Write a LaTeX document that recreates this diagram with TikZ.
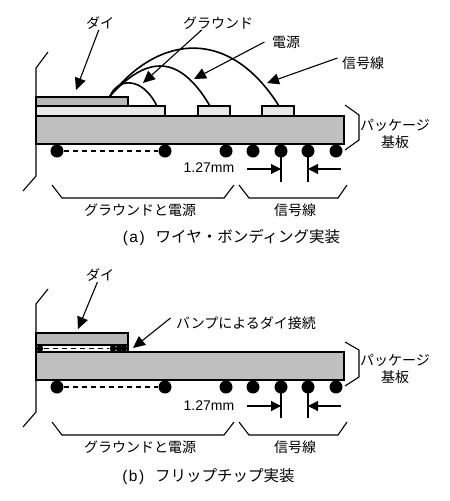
\documentclass[tikz,border=0pt]{standalone}
\usepackage{fontspec}
\setmainfont{Liberation Sans}
\newfontfamily\cjk{Noto Sans CJK JP}
\usetikzlibrary{arrows.meta}

\begin{document}
\begin{tikzpicture}[x=1pt, y=-1pt, line width=1.1pt,
        lbl/.style = {inner sep=0pt, font=\cjk\fontsize{14}{17}\selectfont, align=center},
        num/.style = {inner sep=0pt, font=\fontsize{14}{17}\selectfont},
        caption/.style = {inner sep=0pt, font=\fontsize{15.5}{18}\selectfont},
        ball/.style = {circle, fill=black, inner sep=0pt, minimum size=13pt},
        bump/.style = {circle, fill=black, inner sep=0pt, minimum size=6.5pt},
        point/.style = {-{Triangle[length=12pt,width=11pt]}},
        tick/.style = {-{Triangle[length=10pt,width=10pt]}},
        wire/.style = {line width=1.6pt},
        gap/.style = {dash pattern=on 5pt off 4pt},
        die/.style = {draw, fill=black!28},
        sub/.style = {draw, fill=black!25},
        pad/.style = {draw, fill=black!9}]
    \useasboundingbox (0,0) rectangle (450,501);

    % (a) wire bonding
    \draw[die] (36,97) rectangle (128,106);
    \draw[pad] (36,106) rectangle (165,116);
    \draw[pad] (198,106) rectangle (230,116);
    \draw[pad] (262,106) rectangle (294,116);
    \draw[sub] (36,116) rectangle (344,144);
    \draw (48,52) -- (36,68) -- (36,176) -- (23,191);
    \draw (345,105) -- (359,115) -- (359,140) -- (345,150);

    \coordinate (wA) at (110,96);
    \coordinate (gndA) at (157,106);
    \coordinate (pwrA) at (210,106);
    \coordinate (sigA) at (279,106);
    \draw[wire] (wA) .. controls (118,78) and (142,76) .. (gndA);
    \draw[wire] (wA) .. controls (148,54) and (180,55) .. (pwrA);
    \draw[wire] (wA) .. controls (160,33) and (230,28) .. (sigA);

    \foreach \x in {57,165,226,253,281,308,336}
        \node[ball] (a\x) at (\x,151) {};
    \draw[gap] (a57) -- (a165);

    \node[lbl] (dieA) at (100,23) {ダイ};
    \node[lbl] (groundA) at (218,23) {グラウンド};
    \node[lbl] (powerA) at (286,42) {電源};
    \node[lbl] (signalA) at (363,63) {信号線};
    \node[lbl] (pkgA) at (395,134) {パッケージ\\基板};
    \coordinate (dieAt) at (76,90);
    \coordinate (groundAt) at (143,83);
    \coordinate (powerAt) at (194,79);
    \coordinate (signalAt) at (267,83);
    \path[point] (dieA.-100) edge (dieAt);
    \path[point] (groundA.-157) edge (groundAt);
    \path[point] ([xshift=-7pt]powerA.west) edge (powerAt);
    \path[point] ([xshift=-4pt,yshift=5pt]signalA.west) edge (signalAt);

    \node[num] (pitchA) at (209,168) {1.27mm};
    \coordinate (lfA) at (281,182);
    \coordinate (rgA) at (308,182);
    \coordinate (inA) at (281,169);
    \coordinate (onA) at (308,169);
    \draw (a281.center) -- (lfA);
    \draw (a308.center) -- (rgA);
    \path[tick] (247,169) edge (inA);
    \path[tick] (341,169) edge (onA);

    \draw (52,185) -- (62,198) -- (224,198) -- (234,185);
    \draw (239,185) -- (249,198) -- (338,198) -- (347,185);
    \node[lbl] (gpA) at (140,210) {グラウンドと電源};
    \node[lbl] (slA) at (295,210) {信号線};
    \node[caption] (capA) at (231.5,237) {(\kern1.5pt a\kern1.5pt)\hspace{11pt}{\cjk ワイヤ・ボンディング実装}};

    % (b) flip chip
    \draw[die] (36,333) rectangle (128,345);
    \draw[fill=white] (36,345) rectangle (128,352);
    \draw[sub] (36,352) rectangle (344,380);
    \draw (48,289) -- (36,304) -- (36,412) -- (23,427);
    \draw (345,342) -- (359,350) -- (359,377) -- (345,386);

    \foreach \x in {40,113,119,124}
        \node[bump] (u\x) at (\x,348.5) {};
    \draw[gap] (u40) -- (u113);

    \foreach \x in {57,165,226,253,281,308,336}
        \node[ball] (b\x) at (\x,387) {};
    \draw[gap] (b57) -- (b165);

    \node[lbl] (dieB) at (100,275) {ダイ};
    \node[lbl] (bumpB) at (246,323) {バンプによるダイ接続};
    \node[lbl] (pkgB) at (395,369) {パッケージ\\基板};
    \coordinate (dieBt) at (78,329);
    \coordinate (bumpBt) at (133,348);
    \path[point] (dieB.-110) edge (dieBt);
    \path[point] ([xshift=-5pt,yshift=5pt]bumpB.west) edge (bumpBt);

    \node[num] (pitchB) at (209,406) {1.27mm};
    \coordinate (lfB) at (281,418);
    \coordinate (rgB) at (308,418);
    \coordinate (inB) at (281,406);
    \coordinate (onB) at (308,406);
    \draw (b281.center) -- (lfB);
    \draw (b308.center) -- (rgB);
    \path[tick] (247,406) edge (inB);
    \path[tick] (341,406) edge (onB);

    \draw (52,422) -- (62,435) -- (224,435) -- (234,422);
    \draw (239,422) -- (249,435) -- (338,435) -- (347,422);
    \node[lbl] (gpB) at (140,447) {グラウンドと電源};
    \node[lbl] (slB) at (295,447) {信号線};
    \node[caption] (capB) at (208.5,477) {(\kern1.5pt b\kern1.5pt)\hspace{11pt}{\cjk フリップチップ実装}};
\end{tikzpicture}
\end{document}
